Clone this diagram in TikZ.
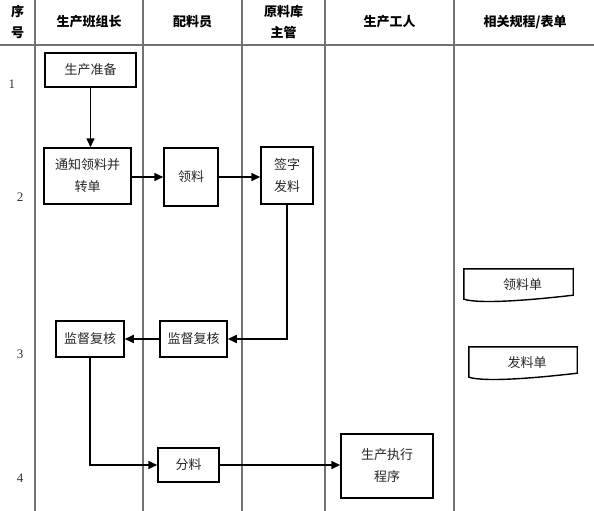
\documentclass[tikz,border=0pt]{standalone}
\usepackage{fontspec}
\setmainfont{Liberation Serif}
\newfontfamily\cjk{Noto Sans CJK SC}
\usetikzlibrary{arrows.meta}
\usetikzlibrary{positioning}

\begin{document}
\begin{tikzpicture}[x=1pt,y=-1pt]
\tikzstyle{lane}=[draw=black!55,line width=1.2pt]
\tikzstyle{head}=[align=center,inner sep=0pt,font=\cjk\bfseries\fontsize{13}{21}\selectfont]
\tikzstyle{num}=[inner sep=0pt,text=black!80,font=\fontsize{13}{15}\selectfont]
\tikzstyle{task}=[rectangle,draw=black,line width=1.5pt,fill=white,align=center,
inner sep=0pt,text=black!85,font=\cjk\fontsize{13}{22}\selectfont]
\tikzstyle{form}=[inner sep=0pt,minimum width=108,minimum height=32,
text=black!85,font=\cjk\fontsize{13}{16}\selectfont]
\tikzstyle{flow}=[-{Triangle[length=9pt,width=8pt]},line width=1.6pt]
\useasboundingbox (0,0) rectangle (594,511);
% swim lanes
\draw[lane] (0,45) -- (594,45);
\foreach \x in {35,143,242,325,454}
  \draw[lane] (\x,0) -- (\x,511);
% headings
\node[head] (h no) at (17.5,22) {序\\号};
\node[head] (h leader) at (89,22) {生产班组长};
\node[head] (h keeper) at (192.5,22) {配料员};
\node[head] (h store) at (283.5,22) {原料库\\主管};
\node[head] (h worker) at (389.5,22) {生产工人};
\node[head] (h rules) at (525,22) {相关规程/表单};
% step numbers
\node[num] (n1) at (12,84) {1};
\node[num] (n2) at (20,197) {2};
\node[num] (n3) at (20,354) {3};
\node[num] (n4) at (20,478) {4};
% steps
\node[task,minimum width=91,minimum height=34] (prep) at (90.5,70) {生产准备};
\node[task,minimum width=87,minimum height=56] (notify) at (87.5,176) {通知领料并\\转单};
\node[task,minimum width=54,minimum height=58] (take) at (191,177) {领料};
\node[task,minimum width=52,minimum height=57] (sign) at (287,175.5) {签字\\发料};
\node[task,minimum width=67,minimum height=36] (check store) at (193.5,339) {监督复核};
\node[task,minimum width=68,minimum height=36] (check leader) at (90,339) {监督复核};
\node[task,minimum width=61,minimum height=34] (split) at (188.5,465) {分料};
\node[task,minimum width=92,minimum height=64] (exec) at (387,466) {生产执行\\程序};
% forms
\node[form,minimum width=109] (form take) at (518.5,285) {\hspace{8pt}领料单};
\node[form] (form issue) at (523,363) {\hspace{8pt}发料单};
\foreach \f in {form take,form issue}
  \draw[line width=1.4pt] (\f.north west) -- (\f.north east) -- ([yshift=6pt]\f.south east)
    .. controls ([xshift=-43pt,yshift=1pt]\f.south east) and ([xshift=16pt,yshift=-3pt]\f.south west)
    .. ([yshift=2pt]\f.south west) -- cycle;
% flow
\draw[flow] (prep.south) -- (prep.south |- notify.north);
\draw[flow] (notify.east |- take.west) -- (take.west);
\draw[flow] (take.east) -- (take.east -| sign.west);
\draw[flow] (sign.south) |- (check store.east);
\draw[flow] (check store.west) -- (check leader.east);
\draw[flow] (check leader.south) |- (split.west);
\draw[flow] (split.east) -- (split.east -| exec.west);
\end{tikzpicture}
\end{document}
